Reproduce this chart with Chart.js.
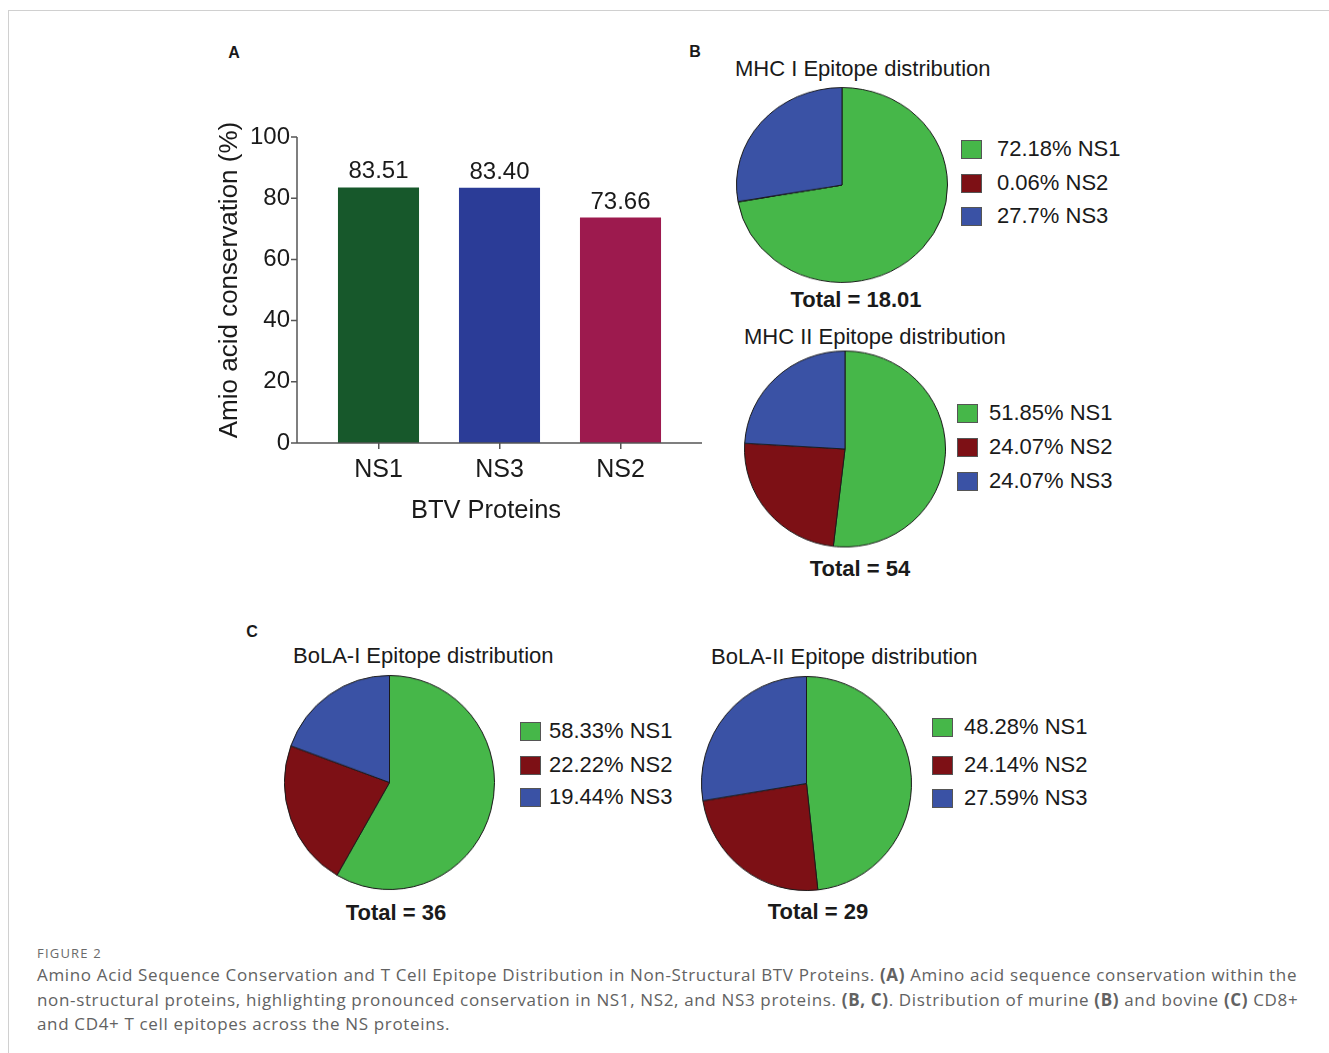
<!DOCTYPE html>
<html>
<head>
<meta charset="utf-8">
<script src="https://cdn.jsdelivr.net/npm/chart.js@4.4.1/dist/chart.umd.min.js"></script>
<style>
  body { margin: 0; background: #fff; width: 1329px; height: 1053px; position: relative; overflow: hidden;
         font-family: "Liberation Sans", Arial, sans-serif; color: #1a1a1a; }
  .frame { position: absolute; left: 8px; top: 10px; width: 1330px; height: 1050px;
           border-top: 1px solid #d0d0d0; border-left: 1px solid #d0d0d0; }
  .panel { position: absolute; font-weight: bold; font-size: 16px; transform: translate(-50%, -50%); }
  .ttl { position: absolute; font-size: 22px; white-space: nowrap; transform: translateY(-50%); }
  .tot { position: absolute; font-size: 22px; font-weight: bold; white-space: nowrap; transform: translate(-50%, -50%); }
  .sq { position: absolute; width: 19px; height: 17px; border: 1px solid #555; }
  .lt { position: absolute; font-size: 22px; white-space: nowrap; transform: translateY(-50%); }
  .pie { position: absolute; }
  .cap-h { position: absolute; left: 37px; top: 944px; font-family: "Open Sans", sans-serif; font-size: 13px;
           color: #6a6a6a; letter-spacing: 1.2px; }
  .cap { position: absolute; left: 37px; top: 963px; font-family: "Open Sans", sans-serif; font-size: 17px;
         line-height: 24.5px; color: #626262; white-space: nowrap; letter-spacing: 0.65px; }
</style>
</head>
<body>
<div class="frame"></div>
<div class="panel" style="left:234px;top:53px">A</div>
<div class="panel" style="left:695px;top:52px">B</div>
<div class="panel" style="left:252px;top:632px">C</div>

<canvas id="bar" width="520" height="440" style="position:absolute;left:200px;top:100px"></canvas>
<div id="pies"></div>

<div class="cap-h">FIGURE 2</div>
<div class="cap">Amino Acid Sequence Conservation and T Cell Epitope Distribution in Non-Structural BTV Proteins. <b>(A)</b> Amino acid sequence conservation within the<br>non-structural proteins, highlighting pronounced conservation in NS1, NS2, and NS3 proteins. <b>(B, C)</b>. Distribution of murine <b>(B)</b> and bovine <b>(C)</b> CD8+<br>and CD4+ T cell epitopes across the NS proteins.</div>

<script>
// bar chart data (panel A)
const barCategories = ["NS1", "NS3", "NS2"];
const conservation = [83.51, 83.40, 73.66];
const barColors = ["#17582b", "#2b3c97", "#9d1a4e"];
const yTicks = [0, 20, 40, 60, 80, 100];

// pie data (panels B and C)
const proteins = ["NS1", "NS2", "NS3"];
const pieColors = ["#46b749", "#7d1015", "#3a52a5"];
const mhc1Values = [72.18, 0.06, 27.7];
const mhc2Values = [51.85, 24.07, 24.07];
const bola1Values = [58.33, 22.22, 19.44];
const bola2Values = [48.28, 24.14, 27.59];
const pieTitles = ["MHC I Epitope distribution", "MHC II Epitope distribution",
                   "BoLA-I Epitope distribution", "BoLA-II Epitope distribution"];
const pieTotals = ["18.01", "54", "36", "29"];

const textColor = "#1a1a1a";
const fontName = "'Liberation Sans', Arial, sans-serif";
const axisFont = { family: fontName, size: 25 };

// axis lines sit a bit outside the bars, like the original plot
const axisPlugin = {
  id: "axes",
  afterDraw(chart) {
    const { ctx, chartArea, scales } = chart;
    const ax = chartArea.left - 21;
    const ay = scales.y.getPixelForValue(0);
    ctx.save();
    ctx.strokeStyle = "#555";
    ctx.lineWidth = 1.5;
    ctx.beginPath();
    ctx.moveTo(ax, scales.y.getPixelForValue(100));
    ctx.lineTo(ax, ay);
    ctx.lineTo(chartArea.right + 21, ay);
    yTicks.forEach(v => {
      const py = scales.y.getPixelForValue(v);
      ctx.moveTo(ax - 6, py);
      ctx.lineTo(ax, py);
    });
    ctx.stroke();

    ctx.fillStyle = textColor;
    ctx.font = "24px " + fontName;
    ctx.textAlign = "center";
    chart.getDatasetMeta(0).data.forEach((bar, i) => {
      ctx.fillText(conservation[i].toFixed(2), bar.x, bar.y - 9);
    });

    // axis titles
    ctx.textBaseline = "middle";
    ctx.font = "25.5px " + fontName;
    ctx.fillText("BTV Proteins", chartArea.left + 168, ay + 68);
    ctx.font = "26px " + fontName;
    ctx.translate(chartArea.left - 88, (chartArea.top + ay) / 2 - 10);
    ctx.rotate(-Math.PI / 2);
    ctx.fillText("Amio acid conservation (%)", 0, 0);
    ctx.restore();
  }
};

new Chart(document.getElementById("bar"), {
  type: "bar",
  data: {
    labels: barCategories,
    datasets: [{
      data: conservation,
      backgroundColor: barColors,
      barPercentage: 0.67,
      categoryPercentage: 1
    }]
  },
  options: {
    responsive: false,
    animation: false,
    events: [],
    layout: { padding: { top: 37, right: 39, bottom: 0, left: 0 } },
    plugins: { legend: { display: false }, tooltip: { enabled: false } },
    scales: {
      x: {
        grid: { display: true, drawOnChartArea: false, offset: false, tickLength: 6, color: "#555", lineWidth: 1.5 },
        border: { display: false },
        ticks: { font: axisFont, color: textColor, padding: 6 },
        afterFit: s => { s.height = 97; }
      },
      y: {
        min: 0,
        max: 100,
        afterBuildTicks: s => { s.ticks = yTicks.map(v => ({ value: v })); },
        grid: { display: false, drawTicks: false },
        border: { display: false },
        ticks: { font: { family: fontName, size: 24 }, color: textColor, padding: 28 },
        afterFit: s => { s.width = 118; s.paddingTop = 0; s.paddingBottom = 0; }
      }
    }
  },
  plugins: [axisPlugin]
});

// where each pie sits on the page
const pieValues = [mhc1Values, mhc2Values, bola1Values, bola2Values];
const pieLayout = [
  { cx: 842, cy: 185, rx: 105, ry: 97, title: [735, 69], total: [856, 300], sq: 961, tx: 997, rows: [149, 183, 216] },
  { cx: 844.5, cy: 448.5, rx: 100, ry: 97.5, title: [744, 337], total: [860, 569], sq: 957, tx: 989, rows: [413, 447, 481] },
  { cx: 389.5, cy: 782.5, rx: 104.5, ry: 106.5, title: [293, 656], total: [396, 913], sq: 520, tx: 549, rows: [731, 765, 797] },
  { cx: 806.5, cy: 783.5, rx: 104.5, ry: 106.5, title: [711, 657], total: [818, 912], sq: 932, tx: 964, rows: [727, 765, 798] }
];

const host = document.getElementById("pies");
pieLayout.forEach((p, k) => {
  const box = document.createElement("div");
  box.className = "pie";
  const size = 2 * p.rx + 2;
  box.style.cssText = `left:${p.cx - size / 2}px;top:${p.cy - size / 2}px;width:${size}px;height:${size}px;transform:scale(1, ${p.ry / p.rx})`;
  const cv = document.createElement("canvas");
  box.appendChild(cv);
  host.appendChild(box);

  new Chart(cv, {
    type: "pie",
    data: {
      labels: proteins,
      datasets: [{
        data: pieValues[k],
        backgroundColor: pieColors,
        borderColor: "#1a1a1a",
        borderWidth: 1
      }]
    },
    options: {
      responsive: true,
      maintainAspectRatio: false,
      animation: false,
      events: [],
      plugins: { legend: { display: false }, tooltip: { enabled: false } }
    }
  });

  const t = document.createElement("div");
  t.className = "ttl";
  t.style.left = p.title[0] + "px";
  t.style.top = p.title[1] + "px";
  t.textContent = pieTitles[k];
  host.appendChild(t);

  const tot = document.createElement("div");
  tot.className = "tot";
  tot.style.left = p.total[0] + "px";
  tot.style.top = p.total[1] + "px";
  tot.textContent = "Total = " + pieTotals[k];
  host.appendChild(tot);

  proteins.forEach((name, i) => {
    const sq = document.createElement("div");
    sq.className = "sq";
    sq.style.left = p.sq + "px";
    sq.style.top = (p.rows[i] - 9.5) + "px";
    sq.style.background = pieColors[i];
    host.appendChild(sq);
    const lt = document.createElement("div");
    lt.className = "lt";
    lt.style.left = p.tx + "px";
    lt.style.top = p.rows[i] + "px";
    lt.textContent = pieValues[k][i] + "% " + name;
    host.appendChild(lt);
  });
});
</script>
</body>
</html>
